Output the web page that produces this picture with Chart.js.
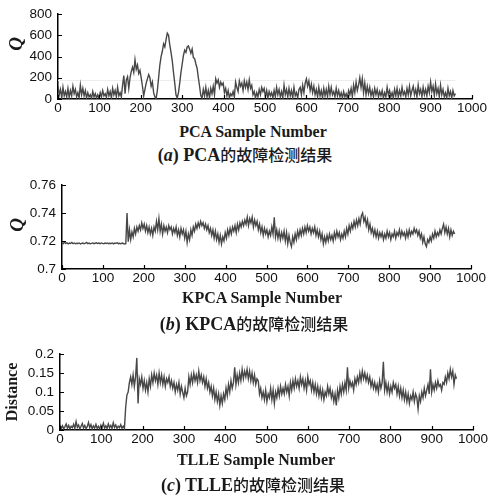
<!DOCTYPE html>
<html><head><meta charset="utf-8">
<script src="https://cdn.jsdelivr.net/npm/chart.js@4/dist/chart.umd.min.js"></script>
<style>
html,body{margin:0;padding:0;background:#fff;}
#wrap{position:relative;width:490px;height:496px;overflow:hidden;background:#fff;}
canvas{position:absolute;left:0;}
.t{position:absolute;transform:translate(-50%,-50%);white-space:nowrap;font-family:'Liberation Serif','Times New Roman',serif;font-weight:bold;color:#1a1a1a;line-height:1;}
.xt{font-size:16px;}
.cap{font-size:18px;}
.cap .cjk{font-family:'Noto Sans CJK SC',sans-serif;font-size:16px;font-weight:500;}
.yt{transform:translate(-50%,-50%) rotate(-90deg);}
.q{font-size:19px;font-style:italic;}
.dist{font-size:16px;}
</style></head>
<body><div id="wrap">
<canvas id="c1" width="490" height="122" style="top:0px;width:490px;height:122px"></canvas>
<canvas id="c2" width="490" height="122" style="top:170px;width:490px;height:122px"></canvas>
<canvas id="c3" width="490" height="115" style="top:340px;width:490px;height:115px"></canvas>

<div class="t yt q" style="left:15px;top:44px">Q</div>
<div class="t xt" style="left:253px;top:132px">PCA Sample Number</div>
<div class="t cap" style="left:245px;top:155px">(<i>a</i>) PCA<span class="cjk">的故障检测结果</span></div>

<div class="t yt q" style="left:16px;top:225px">Q</div>
<div class="t xt" style="left:262px;top:298px">KPCA Sample Number</div>
<div class="t cap" style="left:254px;top:324px">(<i>b</i>) KPCA<span class="cjk">的故障检测结果</span></div>

<div class="t yt dist" style="left:12px;top:392px">Distance</div>
<div class="t xt" style="left:256px;top:460px">TLLE Sample Number</div>
<div class="t cap" style="left:253px;top:485px">(<i>c</i>) TLLE<span class="cjk">的故障检测结果</span></div>
</div>
<script>
// ---- data (one value every 3 samples, sample 0 .. 960) ----
const STEP = 3;
const pcaQ = [
 120,40,90,10,110,30,70,20,100,15,
 80,30,120,50,90,20,60,10,130,40,
 100,30,80,10,60,20,40,5,70,20,
 50,10,40,5,60,20,80,30,50,15,
 90,30,70,10,100,40,80,20,110,30,
 60,20,130,220,50,180,210,100,200,260,
 300,250,370,280,320,240,270,200,120,30,
 90,150,190,230,200,120,160,60,20,5,
 80,200,320,400,450,520,490,560,620,600,
 510,440,360,250,150,40,10,60,150,250,
 330,410,460,440,490,500,470,430,470,390,
 380,330,290,200,120,30,10,90,30,110,
 20,80,10,100,50,120,40,190,150,180,
 110,160,130,150,60,100,30,80,10,50,
 30,70,20,160,110,70,170,120,150,80,
 170,110,160,90,180,100,130,40,70,10,
 60,20,90,40,110,70,100,20,80,10,
 70,30,60,10,80,20,110,40,90,20,
 70,10,130,40,90,20,100,30,80,10,
 110,30,60,10,90,110,40,130,60,150,
 190,120,170,80,140,60,120,40,90,20,
 110,30,80,10,100,30,90,20,120,40,
 110,40,70,20,100,30,80,20,60,10,
 70,20,50,10,80,40,100,20,130,60,
 160,80,130,200,110,190,60,150,40,120,
 50,110,30,80,20,100,40,90,20,70,
 30,80,10,60,20,110,40,80,20,60,
 10,90,30,100,20,80,30,110,40,70,
 20,100,40,120,30,80,120,40,90,20,
 130,50,90,20,110,40,90,30,120,60,
 160,70,120,30,140,50,100,20,130,40,
 90,20,60,10,100,30,70,10,80,30,
 50
];
const pcaLimit = 175;
const pcaLimitRange = [0, 960];

const kpcaQ = [
 0.7188,0.7181,0.7192,0.7183,0.7187,0.7180,0.7185,0.7182,0.7189,0.7181,
 0.7186,0.7180,0.7184,0.7182,0.7186,0.7179,0.7183,0.7185,0.7180,0.7184,
 0.7190,0.7181,0.7185,0.7180,0.7183,0.7186,0.7181,0.7184,0.7187,0.7182,
 0.7185,0.7181,0.7186,0.7183,0.7180,0.7185,0.7182,0.7186,0.7181,0.7184,
 0.7182,0.7186,0.7180,0.7185,0.7183,0.7187,0.7181,0.7184,0.7180,0.7185,
 0.7182,0.7178,0.7181,0.7400,0.7195,0.7280,0.7210,0.7265,0.7230,0.7290,
 0.7250,0.7300,0.7270,0.7310,0.7280,0.7330,0.7290,0.7320,0.7270,0.7310,
 0.7260,0.7300,0.7250,0.7290,0.7240,0.7300,0.7270,0.7340,0.7280,0.7360,
 0.7270,0.7320,0.7250,0.7310,0.7270,0.7300,0.7260,0.7310,0.7280,0.7300,
 0.7250,0.7290,0.7260,0.7300,0.7240,0.7280,0.7230,0.7290,0.7250,0.7280,
 0.7220,0.7270,0.7190,0.7250,0.7210,0.7280,0.7240,0.7300,0.7270,0.7320,
 0.7290,0.7330,0.7300,0.7340,0.7310,0.7330,0.7290,0.7320,0.7280,0.7310,
 0.7260,0.7290,0.7240,0.7280,0.7220,0.7270,0.7210,0.7250,0.7190,0.7240,
 0.7180,0.7230,0.7200,0.7260,0.7220,0.7280,0.7240,0.7290,0.7250,0.7300,
 0.7270,0.7310,0.7260,0.7320,0.7280,0.7330,0.7300,0.7340,0.7310,0.7350,
 0.7320,0.7370,0.7310,0.7360,0.7330,0.7370,0.7300,0.7350,0.7310,0.7340,
 0.7280,0.7320,0.7260,0.7300,0.7240,0.7290,0.7250,0.7280,0.7230,0.7270,
 0.7240,0.7300,0.7250,0.7370,0.7230,0.7280,0.7220,0.7270,0.7210,0.7260,
 0.7220,0.7270,0.7200,0.7260,0.7180,0.7240,0.7190,0.7160,0.7230,0.7190,
 0.7250,0.7210,0.7270,0.7230,0.7280,0.7240,0.7290,0.7250,0.7300,0.7260,
 0.7310,0.7270,0.7300,0.7250,0.7290,0.7260,0.7300,0.7240,0.7280,0.7230,
 0.7270,0.7210,0.7250,0.7180,0.7230,0.7190,0.7240,0.7200,0.7250,0.7210,
 0.7240,0.7200,0.7260,0.7220,0.7270,0.7230,0.7260,0.7210,0.7250,0.7220,
 0.7270,0.7230,0.7290,0.7250,0.7310,0.7270,0.7320,0.7290,0.7340,0.7300,
 0.7350,0.7310,0.7360,0.7320,0.7380,0.7400,0.7340,0.7370,0.7310,0.7350,
 0.7280,0.7320,0.7260,0.7290,0.7240,0.7280,0.7230,0.7270,0.7220,0.7260,
 0.7230,0.7260,0.7210,0.7250,0.7220,0.7270,0.7230,0.7260,0.7210,0.7250,
 0.7230,0.7270,0.7220,0.7260,0.7240,0.7280,0.7230,0.7270,0.7240,0.7260,
 0.7220,0.7270,0.7230,0.7280,0.7240,0.7270,0.7250,0.7290,0.7260,0.7280,
 0.7240,0.7270,0.7220,0.7250,0.7190,0.7230,0.7180,0.7160,0.7210,0.7190,
 0.7230,0.7200,0.7250,0.7220,0.7270,0.7230,0.7260,0.7240,0.7280,0.7250,
 0.7290,0.7320,0.7260,0.7300,0.7250,0.7290,0.7230,0.7280,0.7240,0.7270,
 0.7250
];

const tlleDist = [
 0.014,0.004,0.011,0.003,0.009,0.016,0.005,0.012,0.003,0.010,
 0.006,0.015,0.004,0.022,0.007,0.013,0.003,0.010,0.017,0.005,
 0.012,0.004,0.009,0.020,0.006,0.014,0.003,0.011,0.005,0.015,
 0.004,0.010,0.003,0.013,0.006,0.018,0.005,0.011,0.004,0.016,
 0.006,0.012,0.004,0.019,0.007,0.013,0.004,0.010,0.006,0.014,
 0.005,0.010,0.004,0.060,0.092,0.100,0.125,0.140,0.120,0.145,
 0.115,0.140,0.190,0.070,0.135,0.120,0.140,0.110,0.130,0.105,
 0.125,0.100,0.135,0.115,0.145,0.125,0.150,0.130,0.145,0.120,
 0.150,0.125,0.145,0.120,0.140,0.115,0.135,0.125,0.140,0.115,
 0.130,0.110,0.125,0.100,0.120,0.105,0.125,0.095,0.115,0.100,
 0.085,0.110,0.090,0.100,0.140,0.120,0.145,0.125,0.150,0.130,
 0.145,0.125,0.155,0.130,0.145,0.125,0.140,0.115,0.135,0.110,
 0.125,0.100,0.115,0.090,0.110,0.080,0.100,0.075,0.095,0.065,
 0.090,0.070,0.095,0.080,0.110,0.090,0.120,0.100,0.130,0.110,
 0.125,0.165,0.120,0.145,0.125,0.150,0.130,0.160,0.135,0.155,
 0.140,0.160,0.135,0.155,0.130,0.150,0.125,0.145,0.120,0.135,
 0.130,0.095,0.110,0.085,0.100,0.080,0.105,0.075,0.095,0.085,
 0.110,0.080,0.105,0.070,0.100,0.085,0.110,0.090,0.115,0.095,
 0.110,0.095,0.120,0.100,0.115,0.090,0.125,0.105,0.130,0.110,
 0.135,0.115,0.130,0.110,0.140,0.120,0.135,0.110,0.130,0.105,
 0.140,0.120,0.130,0.105,0.125,0.100,0.120,0.095,0.115,0.090,
 0.110,0.085,0.105,0.080,0.100,0.090,0.115,0.095,0.110,0.085,
 0.100,0.075,0.095,0.065,0.105,0.085,0.115,0.095,0.120,0.100,
 0.125,0.105,0.165,0.110,0.130,0.115,0.125,0.105,0.135,0.120,
 0.140,0.125,0.150,0.130,0.155,0.135,0.150,0.130,0.145,0.125,
 0.140,0.115,0.130,0.110,0.125,0.105,0.120,0.100,0.130,0.110,
 0.125,0.180,0.105,0.125,0.100,0.120,0.095,0.115,0.100,0.125,
 0.110,0.120,0.095,0.115,0.090,0.110,0.085,0.105,0.080,0.100,
 0.075,0.095,0.070,0.090,0.080,0.100,0.075,0.095,0.085,0.055,
 0.090,0.075,0.100,0.085,0.110,0.090,0.105,0.120,0.095,0.160,
 0.100,0.120,0.105,0.125,0.110,0.130,0.115,0.120,0.105,0.125,
 0.120,0.140,0.125,0.150,0.135,0.160,0.140,0.155,0.120,0.145,
 0.135
];

// ---- tick values and labels ----
const xTickVals = [0,100,200,300,400,500,600,700,800,900,1000];
const xTickLabels = ['0','100','200','300','400','500','600','700','800','900','1000'];
const pcaYTicks = [0,200,400,600,800];
const pcaYLabels = ['0','200','400','600','800'];
const kpcaYTicks = [0.7,0.72,0.74,0.76];
const kpcaYLabels = ['0.7','0.72','0.74','0.76'];
const tlleYTicks = [0,0.05,0.1,0.15,0.2];
const tlleYLabels = ['0','0.05','0.1','0.15','0.2'];

const inwardTicks = {
  id:'inwardTicks',
  afterDraw(chart){
    const {ctx, chartArea:a, scales:{x,y}} = chart;
    ctx.save();
    ctx.strokeStyle = '#000'; ctx.lineWidth = 1.2;
    ctx.beginPath();
    x.ticks.forEach(t=>{const px = Math.round(x.getPixelForValue(t.value))+0.5; ctx.moveTo(px,a.bottom); ctx.lineTo(px,a.bottom-4);});
    y.ticks.forEach(t=>{const py = Math.round(y.getPixelForValue(t.value))+0.5; ctx.moveTo(a.left,py); ctx.lineTo(a.left+4,py);});
    ctx.stroke();
    ctx.restore();
  }
};

const tickFont = {family:"'Liberation Sans', Arial, sans-serif", size:13.5};

function makeChart(id, values, yMin, yMax, yTicks, yLabels, area, extraSets){
  const canvas = document.getElementById(id);
  const H = canvas.height;
  const sets = [{
    data: values.map((v,i)=>({x:i*STEP, y:v})),
    borderColor:'#474747', borderWidth:1.4, pointRadius:0, tension:0, fill:false
  }].concat(extraSets || []);
  return new Chart(canvas, {
    type:'line',
    data:{datasets:sets},
    options:{
      responsive:false, animation:false, devicePixelRatio:1,
      layout:{padding:{top:area.top, right:490-area.right, left:0, bottom:0}},
      plugins:{legend:{display:false}, tooltip:{enabled:false}},
      scales:{
        x:{type:'linear', min:0, max:1000,
          afterBuildTicks:s=>{s.ticks = xTickVals.map(v=>({value:v}));},
          ticks:{callback:(v,i)=>xTickLabels[i], font:tickFont, color:'#111', padding:1, maxRotation:0, autoSkip:false},
          grid:{display:false, drawTicks:false},
          border:{display:true, color:'#000', width:1.5},
          afterFit:s=>{s.height = H - area.bottom;}
        },
        y:{type:'linear', min:yMin, max:yMax,
          afterBuildTicks:s=>{s.ticks = yTicks.map(v=>({value:v}));},
          ticks:{callback:(v,i)=>yLabels[i], font:tickFont, color:'#111', padding:6, autoSkip:false},
          grid:{display:false, drawTicks:false},
          border:{display:true, color:'#000', width:1.5},
          afterFit:s=>{s.width = area.left;}
        }
      }
    },
    plugins:[inwardTicks]
  });
}

makeChart('c1', pcaQ, 0, 800, pcaYTicks, pcaYLabels, {top:12, bottom:99, left:58, right:472}, [{
  data: pcaLimitRange.map(x=>({x:x, y:pcaLimit})),
  borderColor:'#ececec', borderWidth:1, pointRadius:0, fill:false
}]);
makeChart('c2', kpcaQ, 0.7, 0.76, kpcaYTicks, kpcaYLabels, {top:15, bottom:99, left:62, right:471});
makeChart('c3', tlleDist, 0, 0.2, tlleYTicks, tlleYLabels, {top:13, bottom:90, left:60, right:473});
</script>
</body></html>
